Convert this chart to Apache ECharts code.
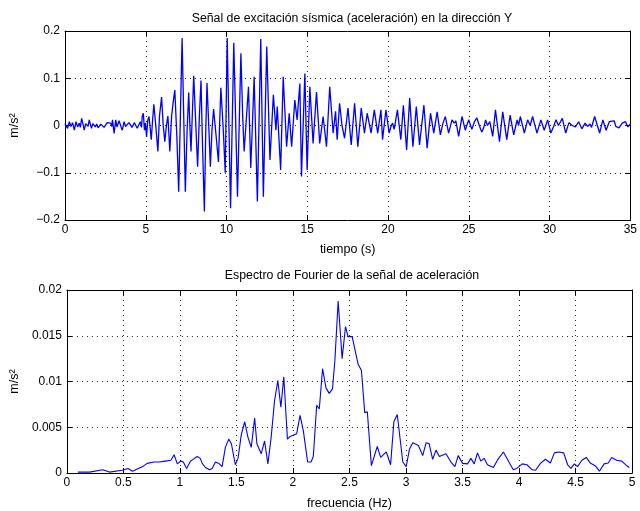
<!DOCTYPE html>
<html>
<head>
<meta charset="utf-8">
<script src="https://cdn.jsdelivr.net/npm/echarts@6/dist/echarts.min.js"></script>
<style>html,body{margin:0;padding:0;background:#fff;}#c{width:640px;height:511px;}</style>
</head>
<body>
<div id="c"></div>
<script>
// ---- Top plot: acceleration signal (time s, value m/s^2) ----
var accTime = [
0.0,0.06,0.16,0.27,0.37,0.47,0.58,0.68,0.78,0.88,0.95,1.03,1.12,1.19,1.28,1.36,1.43,1.50,1.57,1.64,1.72,1.81,1.88,1.97,2.05,2.12,2.22,2.32,2.42,2.53,2.62,2.73,2.83,2.90,2.94,3.04,3.14,3.22,3.29,3.35,3.41,3.48,3.55,3.66,3.75,3.86,3.96,4.07,4.15,4.23,4.30,4.37,4.47,4.58,4.66,4.74,4.78,4.85,4.92,4.98,5.05,5.12,5.20,5.27,5.34,5.42,5.50,5.62,5.75,5.85,5.98,6.08,6.18,6.28,6.37,6.49,6.60,6.70,6.80,6.92,7.04,7.15,7.25,7.35,7.45,7.56,7.66,7.73,7.80,7.90,7.97,8.10,8.21,8.32,8.42,8.52,8.63,8.71,8.79,8.90,9.00,9.10,9.20,9.35,9.50,9.58,9.65,9.80,9.92,10.04,10.25,10.45,10.68,10.89,11.00,11.09,11.20,11.36,11.50,11.60,11.71,11.91,12.12,12.28,12.49,12.69,12.90,13.06,13.14,13.35,13.51,13.72,13.88,14.03,14.23,14.37,14.54,14.64,14.85,14.99,15.16,15.36,15.57,15.77,15.98,16.19,16.39,16.60,16.75,16.85,17.00,17.15,17.31,17.52,17.72,17.93,18.13,18.34,18.54,18.71,18.95,19.15,19.36,19.56,19.66,19.87,20.07,20.20,20.28,20.38,20.58,20.79,20.95,21.15,21.34,21.54,21.75,21.95,22.22,22.42,22.63,22.83,23.04,23.24,23.40,23.55,23.75,23.96,24.10,24.20,24.37,24.58,24.78,24.99,25.19,25.35,25.50,25.65,25.80,25.92,26.04,26.15,26.30,26.48,26.65,26.90,27.10,27.35,27.56,27.78,27.99,28.08,28.19,28.44,28.64,28.80,28.95,29.22,29.46,29.67,29.88,30.08,30.25,30.40,30.55,30.79,31.00,31.20,31.40,31.60,31.80,32.00,32.20,32.35,32.50,32.60,32.79,33.10,33.30,33.50,33.70,34.00,34.10,34.30,34.50,34.70,34.85,35.00
];
var accValue = [
0.004,0.005,-0.006,0.008,-0.002,0.006,-0.010,0.008,-0.003,0.005,-0.004,0.015,0.002,-0.010,0.004,0.008,-0.002,0.012,0.003,-0.006,0.004,0.005,-0.003,0.003,-0.005,-0.002,0.003,0.005,-0.004,-0.001,0.006,0.008,0.005,-0.002,0.012,-0.017,0.012,-0.003,-0.002,0.010,0.012,-0.004,-0.010,0.008,-0.002,-0.006,0.006,0.005,-0.004,-0.002,0.006,0.005,-0.006,-0.002,0.008,-0.004,0.019,0.026,-0.010,0.005,-0.024,0.010,0.019,-0.005,-0.030,0.010,0.045,0.000,-0.055,0.020,0.060,0.000,-0.034,0.000,0.020,-0.055,0.020,0.050,0.075,-0.020,-0.140,0.030,0.185,0.020,-0.140,-0.010,0.070,0.000,-0.055,0.040,0.105,0.000,-0.087,0.020,0.095,-0.050,-0.182,-0.020,0.090,0.000,-0.087,-0.010,0.035,-0.020,-0.077,0.010,0.080,-0.010,-0.100,0.185,-0.175,0.175,-0.151,0.153,0.020,-0.055,0.000,0.082,-0.090,0.000,0.103,-0.161,0.183,-0.151,0.167,-0.073,0.065,-0.010,0.040,-0.094,0.103,-0.045,0.026,-0.045,0.054,0.012,0.089,-0.108,0.110,-0.094,0.082,-0.038,0.071,-0.038,0.019,-0.045,0.082,-0.016,0.030,-0.030,0.047,0.000,-0.027,0.037,-0.041,0.047,-0.045,0.037,-0.016,0.026,-0.016,0.033,-0.016,0.033,-0.030,0.033,-0.016,0.000,0.005,-0.008,0.033,-0.030,0.043,-0.052,0.058,-0.045,0.040,-0.041,0.043,-0.048,0.026,-0.016,0.029,-0.020,0.005,0.019,-0.016,0.012,0.005,0.010,-0.023,0.019,-0.010,0.012,-0.008,0.008,0.016,0.000,-0.014,-0.005,0.012,0.000,0.008,-0.023,0.033,-0.034,0.029,-0.030,0.022,-0.020,0.012,0.000,0.019,-0.016,0.012,0.000,0.019,-0.016,0.012,-0.010,0.012,-0.016,-0.002,0.012,0.000,0.015,-0.016,0.006,0.000,-0.003,0.008,-0.007,0.005,-0.002,0.003,-0.004,0.019,-0.016,0.012,-0.010,0.008,0.010,-0.002,-0.005,0.005,0.008,-0.003,0.003
];
var timeTicks = [0,5,10,15,20,25,30,35];
var accTicks = [-0.2,-0.1,0,0.1,0.2];

// ---- Bottom plot: Fourier spectrum (frequency Hz, amplitude) ----
var freq = [
0.097,0.2,0.317,0.375,0.49,0.54,0.58,0.67,0.71,0.77,0.82,0.87,0.92,0.948,0.977,1.006,1.03,1.059,1.094,1.153,1.18,1.197,1.226,1.262,1.285,1.314,1.344,1.373,1.402,1.432,1.455,1.49,1.514,1.543,1.573,1.602,1.631,1.661,1.681,1.719,1.749,1.778,1.807,1.837,1.866,1.893,1.919,1.951,1.975,2.033,2.063,2.092,2.13,2.16,2.18,2.21,2.233,2.262,2.292,2.321,2.35,2.371,2.4,2.435,2.465,2.488,2.524,2.576,2.606,2.635,2.658,2.694,2.746,2.776,2.826,2.864,2.893,2.923,2.972,3.002,3.031,3.06,3.11,3.148,3.178,3.205,3.236,3.266,3.295,3.354,3.398,3.433,3.462,3.501,3.545,3.574,3.604,3.633,3.662,3.692,3.721,3.774,3.809,3.862,3.911,3.95,3.98,4.029,4.07,4.117,4.147,4.19,4.234,4.278,4.313,4.351,4.395,4.431,4.46,4.49,4.518,4.557,4.595,4.63,4.674,4.712,4.753,4.79,4.82,4.864,4.909,4.953,4.977
];
var amp = [
0.0001,0.0001,0.00035,0.0001,0.0003,0.0005,0.0002,0.0007,0.00105,0.0012,0.0012,0.0013,0.0014,0.002,0.001,0.0013,0.0012,0.0005,0.0013,0.0018,0.0016,0.00105,0.0006,0.00035,0.0005,0.0012,0.00105,0.0007,0.0028,0.0037,0.0032,0.0009,0.0016,0.0042,0.0056,0.0039,0.0028,0.006,0.0032,0.0021,0.0035,0.001,0.0039,0.0079,0.0101,0.0072,0.0105,0.0037,0.004,0.0043,0.0063,0.0046,0.0012,0.0012,0.0018,0.0074,0.007,0.0114,0.0093,0.0087,0.0092,0.0123,0.0188,0.0125,0.016,0.0149,0.0149,0.0119,0.0112,0.0066,0.0067,0.0008,0.0029,0.0017,0.0023,0.0009,0.0056,0.0064,0.0012,0.0007,0.0026,0.0033,0.003,0.0019,0.0033,0.0032,0.0015,0.0025,0.0018,0.0021,0.0012,0.0007,0.0019,0.00105,0.001,0.0016,0.001,0.0022,0.0013,0.0016,0.0009,0.0006,0.0014,0.0023,0.0012,0.00035,0.0005,0.001,0.0009,0.00035,0.0003,0.00105,0.0015,0.0011,0.0022,0.0023,0.0022,0.0009,0.0005,0.001,0.0007,0.0014,0.0017,0.0011,0.0008,0.0002,0.001,0.0011,0.0017,0.0014,0.0013,0.0008,0.0006
];
var freqTicks = [0,0.5,1,1.5,2,2.5,3,3.5,4,4.5,5];
var ampTicks = [0,0.005,0.01,0.015,0.02];

var FONT = '"Liberation Sans", Arial, Helvetica, sans-serif';
function fmt(v){ var s = String(Math.round(v*100000)/100000); return s.charAt(0)==='-' ? '\u2212'+s.slice(1) : s; }
var grid0 = {left:64, top:31, width:568, height:189};
var grid1 = {left:64, top:290, width:568, height:190};
var dotted = {show:true, lineStyle:{color:'#222', width:1, type:[1,4]}};
var labelStyle = {color:'#000', fontSize:12, fontFamily:FONT};
var nameStyle = {color:'#000', fontSize:12.5, fontFamily:FONT};

function xAx(gi, arr, main, name, gap){
  return {
    type:'value', gridIndex:gi, min:arr[0], max:arr[arr.length-1], interval:arr[1]-arr[0],
    position: main ? 'bottom':'top',
    axisLine:{show:true, onZero:false, lineStyle:{color:'#000', width:1}},
    axisTick:{show:true, inside:true, length:5, lineStyle:{color:'#000'}},
    axisLabel: main ? Object.assign({show:true, margin:4, formatter:fmt}, labelStyle) : {show:false},
    splitLine: main ? dotted : {show:false},
    name: main ? name : '', nameLocation:'middle', nameGap:gap,
    nameTextStyle: nameStyle
  };
}
function yAx(gi, arr, main, name){
  return {
    type:'value', gridIndex:gi, min:arr[0], max:arr[arr.length-1], interval:arr[1]-arr[0],
    position: main ? 'left':'right',
    axisLine:{show:true, onZero:false, lineStyle:{color:'#000', width:1}},
    axisTick:{show:true, inside:true, length:5, lineStyle:{color:'#000'}},
    axisLabel: main ? Object.assign({show:true, margin:5, formatter:fmt}, labelStyle) : {show:false},
    splitLine: main ? dotted : {show:false},
    name: main ? name : '', nameLocation:'middle', nameGap:44, nameRotate:90,
    nameTextStyle: nameStyle
  };
}
function zip(a,b){ var r=[]; for(var i=0;i<a.length;i++) r.push([a[i],b[i]]); return r; }

var chart = echarts.init(document.getElementById('c'), null, {renderer:'canvas'});
chart.setOption({
  animation:false,
  backgroundColor:'#fff',
  title:[
    {text:'Señal de excitación sísmica (aceleración) en la dirección Y', left:347, top:8, textAlign:'center',
     textStyle:{fontSize:12.3, fontWeight:'normal', color:'#000', fontFamily:FONT}},
    {text:'Espectro de Fourier de la señal de aceleración', left:347, top:265, textAlign:'center',
     textStyle:{fontSize:12.3, fontWeight:'normal', color:'#000', fontFamily:FONT}}
  ],
  grid:[grid0, grid1],
  xAxis:[xAx(0,timeTicks,true,'tiempo (s)',23), xAx(0,timeTicks,false), xAx(1,freqTicks,true,'frecuencia (Hz)',24), xAx(1,freqTicks,false)],
  yAxis:[yAx(0,accTicks,true,'m/s²'), yAx(0,accTicks,false), yAx(1,ampTicks,true,'m/s²'), yAx(1,ampTicks,false)],
  series:[
    {type:'line', xAxisIndex:0, yAxisIndex:0, data:zip(accTime,accValue), showSymbol:false,
     lineStyle:{color:'#0000ff', width:1.3}, itemStyle:{color:'#0000ff'}},
    {type:'line', xAxisIndex:2, yAxisIndex:2, data:zip(freq,amp), showSymbol:false,
     lineStyle:{color:'#0000ff', width:1.1}, itemStyle:{color:'#0000ff'}}
  ]
});
</script>
</body>
</html>
